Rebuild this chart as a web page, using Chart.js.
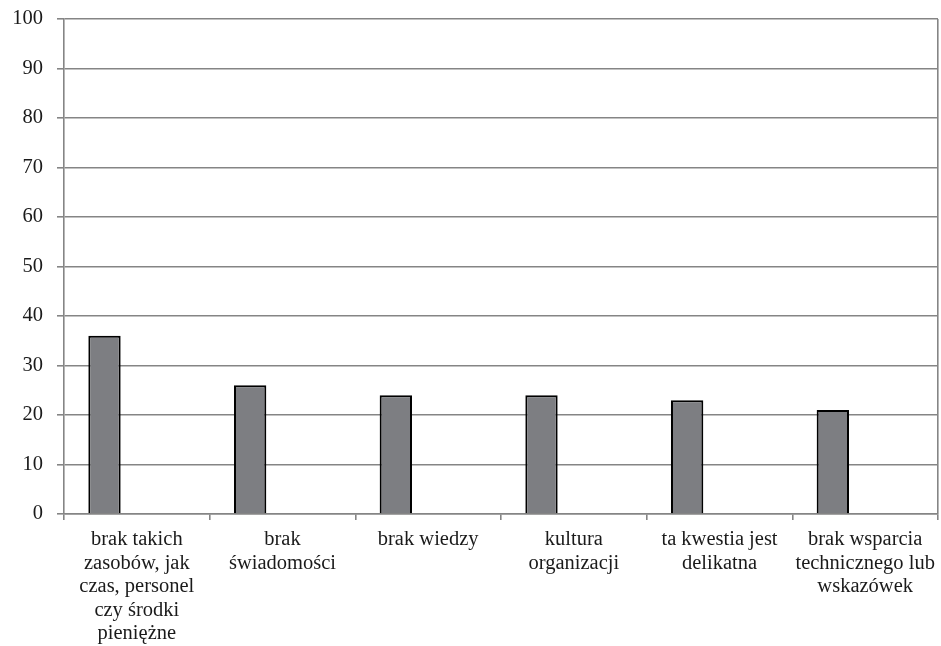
<!DOCTYPE html>
<html>
<head>
<meta charset="utf-8">
<title>Bariery</title>
<script src="https://cdn.jsdelivr.net/npm/chart.js@4.4.1/dist/chart.umd.min.js"></script>
<style>
  html, body { margin: 0; padding: 0; background: #fff; }
  #wrap { width: 941px; height: 646px; position: relative; }
</style>
</head>
<body>
<div id="wrap"><canvas id="barChart"></canvas></div>
<script>
// Category labels, already split into lines
const categories = [
  ["brak takich", "zasobów, jak", "czas, personel", "czy środki", "pieniężne"],
  ["brak", "świadomości"],
  ["brak wiedzy"],
  ["kultura", "organizacji"],
  ["ta kwestia jest", "delikatna"],
  ["brak wsparcia", "technicznego lub", "wskazówek"]
];
const values = [36, 26, 24, 24, 23, 21];
// second series is empty, it only reserves space next to each bar
const emptySeries = [null, null, null, null, null, null];
const yTicks = [0, 10, 20, 30, 40, 50, 60, 70, 80, 90, 100];

const gridColor = "#858585";
const font = { family: "'Liberation Serif', 'Times New Roman', serif", size: 20.5, lineHeight: 1.15 };

const ctx = document.getElementById("barChart").getContext("2d");
new Chart(ctx, {
  type: "bar",
  data: {
    labels: categories,
    datasets: [{
      data: values,
      backgroundColor: "#7d7e82",
      borderColor: "#000",
      borderWidth: 2,
      categoryPercentage: 0.888,
      barPercentage: 0.5
    }, {
      data: emptySeries,
      categoryPercentage: 0.888,
      barPercentage: 0.5
    }]
  },
  options: {
    responsive: true,
    maintainAspectRatio: false,
    animation: false,
    layout: { padding: { top: 19, right: 3, bottom: 0, left: 0 } },
    plugins: {
      legend: { display: false },
      tooltip: { enabled: false }
    },
    scales: {
      x: {
        offset: true,
        grid: {
          offset: true,
          // only the closing line on the right edge is drawn inside the plot
          color: c => c.tick ? "transparent" : gridColor,
          tickColor: gridColor,
          tickLength: 6,
          lineWidth: 1.6
        },
        border: { color: gridColor, width: 1.6 },
        ticks: { font: font, color: "#1a1a1a", padding: 8, maxRotation: 0, autoSkip: false },
        afterFit: s => { s.height = 132; s.paddingLeft = 0; s.paddingRight = 0; }
      },
      y: {
        min: 0,
        max: 100,
        afterBuildTicks: s => { s.ticks = yTicks.map(v => ({ value: v })); },
        grid: { color: gridColor, lineWidth: 1.6, tickLength: 7 },
        border: { color: gridColor, width: 1.6 },
        ticks: { font: font, color: "#1a1a1a", padding: 14 },
        afterFit: s => { s.width = 64; s.paddingTop = 0; s.paddingBottom = 0; }
      }
    }
  }
});
</script>
</body>
</html>
